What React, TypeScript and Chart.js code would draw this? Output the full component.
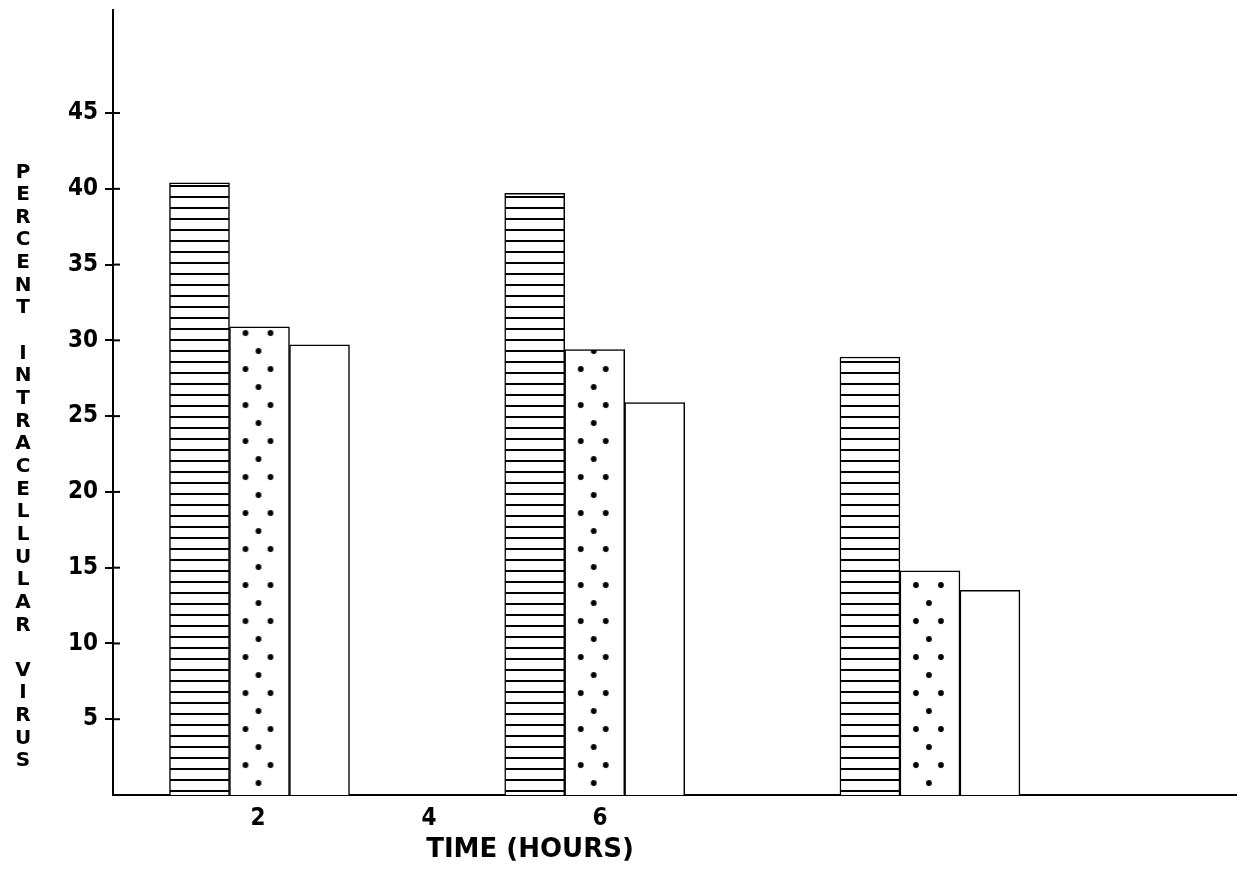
import React, { useEffect, useRef } from "react";
import { Chart, registerables } from "chart.js";

Chart.register(...registerables);

// ---- data ----
const HOURS = [2, 4, 6];
const X_TICKS = [2, 4, 6];
const Y_TICKS = [5, 10, 15, 20, 25, 30, 35, 40, 45];
const SERIES_NAMES = ["Hatched", "Stippled", "Open"];
const HATCHED = [40.4, 39.7, 28.9];
const STIPPLED = [30.9, 29.4, 14.8];
const OPEN = [29.7, 25.9, 13.5];
const Y_TITLE = "PERCENT INTRACELLULAR VIRUS";
const X_TITLE = "TIME (HOURS)";

const W = 1237;
const H = 872;
const AREA_LEFT = 113;
const AREA_TOP = 10;
const AREA_BOTTOM = 795;
const BAR_W = 60;
const TICK_FONT = { family: "'DejaVu Sans', sans-serif", weight: "bold condensed", size: 24 };

function makeHatch(ctx: CanvasRenderingContext2D) {
  const c = document.createElement("canvas");
  c.width = 10;
  c.height = 11;
  const g = c.getContext("2d")!;
  g.fillStyle = "#fff";
  g.fillRect(0, 0, 10, 11);
  g.fillStyle = "#000";
  g.fillRect(0, 9, 10, 2);
  return ctx.createPattern(c, "repeat")!;
}

function makeDots(ctx: CanvasRenderingContext2D) {
  const c = document.createElement("canvas");
  c.width = BAR_W;
  c.height = 36;
  const g = c.getContext("2d")!;
  g.fillStyle = "#fff";
  g.fillRect(0, 0, BAR_W, 36);
  g.fillStyle = "#000";
  const dots = [
    [16, 9],
    [41, 9],
    [29, 27],
  ];
  dots.forEach(([x, y]) => {
    g.beginPath();
    g.arc(x, y, 2.9, 0, Math.PI * 2);
    g.fill();
  });
  return ctx.createPattern(c, "repeat")!;
}

const crossTicks = {
  id: "crossTicks",
  afterDraw(chart: any) {
    const y = chart.scales.y;
    const ctx = chart.ctx;
    ctx.save();
    ctx.strokeStyle = "#000";
    ctx.lineWidth = 2;
    y.ticks.forEach((t: any) => {
      const py = y.getPixelForValue(t.value);
      ctx.beginPath();
      ctx.moveTo(y.right, py);
      ctx.lineTo(y.right + 7, py);
      ctx.stroke();
    });
    ctx.restore();
  },
};

export default function App() {
  const ref = useRef<HTMLCanvasElement | null>(null);

  useEffect(() => {
    const canvas = ref.current!;
    const ctx2d = canvas.getContext("2d")!;
    const hatch = makeHatch(ctx2d);

    const dotFill = (context: any) => {
      const chart = context.chart;
      const xs = chart.scales && chart.scales.x;
      if (!xs || !context.raw) return "#fff";
      const cx = xs.getPixelForValue(context.raw.x);
      const p = makeDots(chart.ctx);
      if (isFinite(cx)) p.setTransform(new DOMMatrix().translate(cx - BAR_W / 2, 0));
      return p;
    };

    const toPoints = (vals: number[]) => HOURS.map((h, i) => ({ x: h, y: vals[i] }));

    const common = {
      borderColor: "#000",
      borderWidth: 1.5,
      barThickness: BAR_W,
    };

    const chart = new Chart(canvas, {
      type: "bar",
      data: {
        datasets: [
          { label: SERIES_NAMES[0], data: toPoints(HATCHED), backgroundColor: hatch, ...common },
          { label: SERIES_NAMES[1], data: toPoints(STIPPLED), backgroundColor: dotFill, ...common },
          { label: SERIES_NAMES[2], data: toPoints(OPEN), backgroundColor: "#fff", ...common },
        ],
      } as any,
      options: {
        animation: false,
        responsive: false,
        layout: { padding: { top: AREA_TOP, left: 0, right: 0, bottom: 0 } },
        plugins: { legend: { display: false }, tooltip: { enabled: false } },
        scales: {
          x: {
            type: "linear",
            display: false,
            offset: false,
            min: 1.126,
            max: 7.832,
          },
          x2: {
            type: "linear",
            position: "bottom",
            offset: false,
            min: 0.304,
            max: 13.45,
            afterBuildTicks: (s: any) => {
              s.ticks = X_TICKS.map((v) => ({ value: v }));
            },
            afterFit: (s: any) => {
              s.height = H - AREA_BOTTOM;
              s.paddingLeft = 0;
              s.paddingRight = 0;
            },
            grid: { display: false, drawTicks: false, offset: false },
            border: { display: true, color: "#000", width: 2 },
            ticks: {
              padding: 9,
              color: "#000",
              autoSkip: false,
              maxRotation: 0,
              font: TICK_FONT,
              callback: (v: any) => String(v),
            },
          },
          y: {
            type: "linear",
            min: 0,
            max: 51.8,
            afterBuildTicks: (s: any) => {
              s.ticks = Y_TICKS.map((v) => ({ value: v }));
            },
            afterFit: (s: any) => {
              s.width = AREA_LEFT;
              s.paddingTop = 0;
              s.paddingBottom = 0;
            },
            grid: { display: true, drawOnChartArea: false, drawTicks: true, tickLength: 8, color: "#000", lineWidth: 2 },
            border: { display: true, color: "#000", width: 2 },
            ticks: {
              padding: 7,
              color: "#000",
              font: TICK_FONT,
              callback: (v: any) => String(v),
            },
          },
        },
      } as any,
      plugins: [crossTicks],
    });

    return () => chart.destroy();
  }, []);

  const pitch = 22.65;
  const firstCenter = 170.5;

  return (
    <div style={{ position: "fixed", left: 0, top: 0, width: W, height: H, background: "#fff" }}>
      <canvas ref={ref} width={W} height={H} style={{ display: "block", width: W, height: H }} />
      {Y_TITLE.split("").map((ch, i) => (
        <div
          key={i}
          style={{
            position: "absolute",
            left: 8,
            width: 30,
            top: firstCenter + i * pitch - 12,
            height: 24,
            lineHeight: "24px",
            textAlign: "center",
            font: "bold 20px 'DejaVu Sans', sans-serif",
            color: "#000",
          }}
        >
          {ch}
        </div>
      ))}
      <div
        style={{
          position: "absolute",
          left: 380,
          width: 300,
          top: 833,
          lineHeight: "28px",
          textAlign: "center",
          font: "bold 26px 'DejaVu Sans', sans-serif",
          color: "#000",
          whiteSpace: "nowrap",
        }}
      >
        {X_TITLE}
      </div>
    </div>
  );
}
